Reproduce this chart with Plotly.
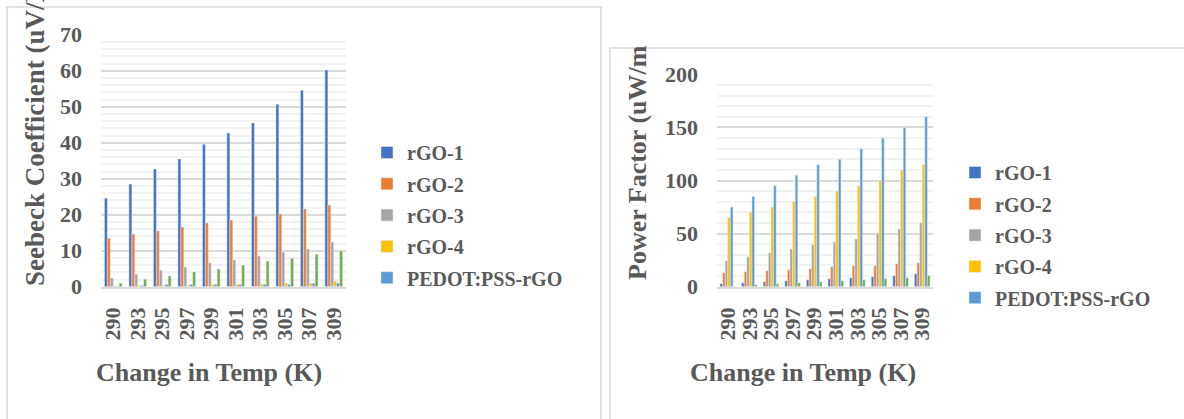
import plotly.graph_objects as go

# Temperature steps (K)
temps = ["290", "293", "295", "297", "299", "301", "303", "305", "307", "309"]

series_names = ["rGO-1", "rGO-2", "rGO-3", "rGO-4", "PEDOT:PSS-rGO", "PEDOT:PSS-rGO-2"]
colors = ["#4472C4", "#ED7D31", "#A5A5A5", "#FFC000", "#5B9BD5", "#70AD47"]

# Seebeck coefficient (uV/K)
seebeck_rgo1 = [24.6, 28.5, 32.7, 35.5, 39.6, 42.7, 45.5, 50.7, 54.6, 60.2]
seebeck_rgo2 = [13.5, 14.6, 15.5, 16.6, 17.7, 18.5, 19.6, 20.2, 21.6, 22.7]
seebeck_rgo3 = [2.4, 3.5, 4.6, 5.5, 6.6, 7.4, 8.5, 9.6, 10.5, 12.4]
seebeck_rgo4 = [0.1, 0.3, 0.3, 0.3, 0.7, 0.7, 0.7, 1.0, 1.0, 1.6]
seebeck_pedot = [0.1, 0.3, 0.7, 0.7, 0.7, 0.7, 0.7, 0.7, 1.0, 1.0]
seebeck_extra = [1.0, 2.1, 3.0, 4.1, 4.9, 6.0, 7.1, 7.9, 9.0, 9.9]

# Power factor (uW/mK^2)
pf_rgo1 = [2.8, 3.7, 4.7, 5.6, 6.6, 7.5, 8.4, 9.4, 10.3, 12.2]
pf_rgo2 = [13.1, 14.0, 15.0, 15.9, 16.9, 18.8, 19.7, 19.7, 21.6, 22.5]
pf_rgo3 = [24.4, 28.1, 31.9, 35.6, 39.4, 42.2, 45.0, 50.6, 54.4, 60.0]
pf_rgo4 = [65.0, 70.0, 75.0, 80.0, 85.0, 90.0, 95.0, 100.0, 110.0, 115.0]
pf_pedot = [75.0, 85.0, 95.0, 105.0, 115.0, 120.0, 130.0, 140.0, 150.0, 160.0]
pf_extra = [0.3, 1.9, 2.8, 3.7, 4.7, 5.6, 6.6, 7.5, 8.4, 10.3]

seebeck = [seebeck_rgo1, seebeck_rgo2, seebeck_rgo3, seebeck_rgo4, seebeck_pedot, seebeck_extra]
power = [pf_rgo1, pf_rgo2, pf_rgo3, pf_rgo4, pf_pedot, pf_extra]

W, H = 1184, 419
SERIF = "Liberation Serif"
TXT = "#595959"
GRID = "#d9d9d9"
MINOR = "#f2f2f2"


def px_x(v):
    return v / W


def px_y(v):
    return 1 - v / H


fig = go.Figure()

for i, (name, col) in enumerate(zip(series_names, colors)):
    fig.add_trace(go.Bar(
        x=temps, y=seebeck[i], name=name, marker_color=col,
        xaxis="x", yaxis="y", legend="legend", legendgroup="a" + str(i),
        showlegend=i < 5,
    ))
for i, (name, col) in enumerate(zip(series_names, colors)):
    fig.add_trace(go.Bar(
        x=temps, y=power[i], name=name, marker_color=col,
        xaxis="x2", yaxis="y2", legend="legend2", legendgroup="b" + str(i),
        showlegend=i < 5,
    ))

tickfont = dict(family=SERIF, size=22, color=TXT, weight="bold")

xcommon = dict(
    type="category", tickmode="array", tickvals=temps, ticktext=temps,
    tickangle=-90, tickfont=tickfont, showgrid=False,
    showline=True, linecolor=GRID, linewidth=2, ticks="", ticklabelstandoff=10,
)
ycommon = dict(
    tickfont=tickfont, showgrid=True, gridcolor=GRID, gridwidth=2,
    zeroline=False, showline=False, ticks="", ticklabelstandoff=18,
)

legend_common = dict(
    font=dict(family=SERIF, size=20, color=TXT, weight="bold"),
    bgcolor="rgba(0,0,0,0)", traceorder="grouped", tracegroupgap=2.3,
    xanchor="left", yanchor="top", itemclick=False,
)

fig.update_layout(
    width=W, height=H,
    margin=dict(l=0, r=0, t=0, b=0, autoexpand=False),
    paper_bgcolor="white", plot_bgcolor="white",
    barmode="group", bargap=0.28, bargroupgap=0,
    xaxis=dict(domain=[px_x(101), px_x(346)], anchor="y", **xcommon),
    yaxis=dict(domain=[px_y(286.7), px_y(34.7)], anchor="x", range=[0, 70],
               dtick=10, minor=dict(dtick=2, showgrid=True, gridcolor=MINOR, gridwidth=2),
               **ycommon),
    xaxis2=dict(domain=[px_x(717), px_x(933)], anchor="y2", **xcommon),
    yaxis2=dict(domain=[px_y(286.7), px_y(74.3)], anchor="x2", range=[0, 200],
                dtick=50, minor=dict(dtick=10, showgrid=True, gridcolor=MINOR, gridwidth=2),
                **ycommon),
    legend=dict(x=px_x(367), y=px_y(133), **legend_common),
    legend2=dict(x=px_x(955), y=px_y(153), **legend_common),
    showlegend=True,
)

# Chart frames
fig.add_shape(type="rect", xref="paper", yref="paper",
              x0=px_x(7), x1=px_x(601), y0=px_y(430), y1=px_y(7),
              line=dict(color=GRID, width=1.5), fillcolor="rgba(0,0,0,0)", layer="below")
fig.add_shape(type="rect", xref="paper", yref="paper",
              x0=px_x(610), x1=px_x(1195), y0=px_y(430), y1=px_y(48),
              line=dict(color=GRID, width=1.5), fillcolor="rgba(0,0,0,0)", layer="below")

title_font = dict(family=SERIF, size=26, color=TXT, weight="bold")

fig.add_annotation(text="Change in Temp (K)", xref="paper", yref="paper",
                   x=px_x(209), y=px_y(372), showarrow=False, font=title_font,
                   xanchor="center", yanchor="middle")
fig.add_annotation(text="Change in Temp (K)", xref="paper", yref="paper",
                   x=px_x(803), y=px_y(372), showarrow=False, font=title_font,
                   xanchor="center", yanchor="middle")
fig.add_annotation(text="Seebeck Coefficient (uV/K)", xref="paper", yref="paper",
                   x=px_x(35), y=px_y(130), showarrow=False, textangle=-90,
                   font=dict(family=SERIF, size=27, color=TXT, weight="bold"),
                   xanchor="center", yanchor="middle")
fig.add_annotation(text="Power Factor (uW/m", xref="paper", yref="paper",
                   x=px_x(637), y=px_y(163), showarrow=False, textangle=-90,
                   font=dict(family=SERIF, size=26, color=TXT, weight="bold"),
                   xanchor="center", yanchor="middle")

fig.write_html("out.html")
